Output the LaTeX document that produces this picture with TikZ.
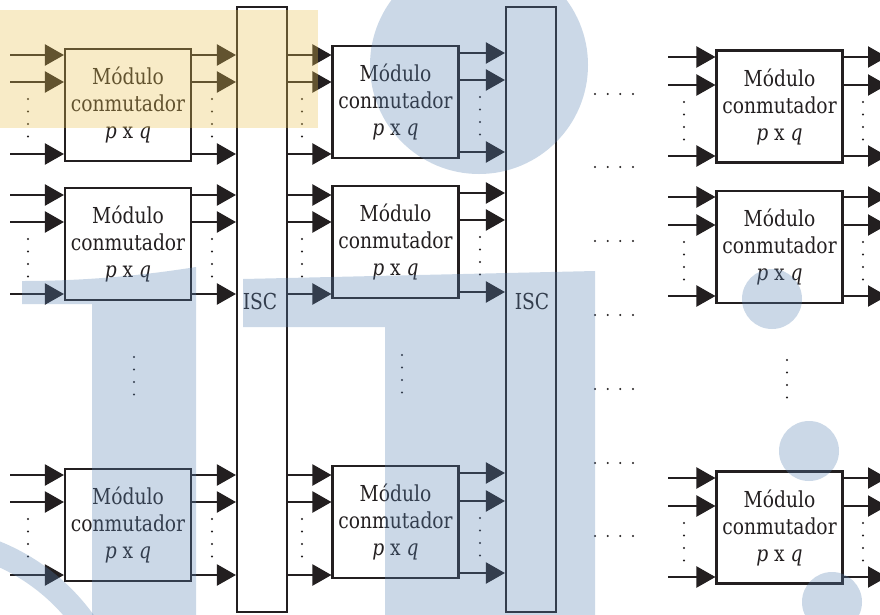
\documentclass[tikz,border=0pt]{standalone}
\usepackage{fontspec}
\setmainfont{DejaVu Serif}[FakeStretch=0.85]
\usetikzlibrary{arrows.meta}
\definecolor{ink}{HTML}{231F20}
\definecolor{wmblue}{RGB}{88,131,180}
\definecolor{wmgold}{RGB}{234,194,81}
\newcommand{\modtext}{Módulo\\conmutador\\\textit{p} x \textit{q}}

\begin{document}
\begin{tikzpicture}[x=1pt,y=-1pt,
  module/.style={draw=ink, line width=2.1pt, fill=white, minimum width=126pt,
    minimum height=112pt, inner sep=0pt, align=center, text=ink,
    font=\fontsize{22}{27}\selectfont},
  isc/.style={draw=ink, line width=2.1pt, fill=white, minimum width=50pt,
    minimum height=605pt, inner sep=0pt},
  isclabel/.style={text=ink, font=\fontsize{22}{27}\selectfont, inner sep=0pt},
  wire/.style={draw=ink, line width=2.2pt, -{Triangle[length=19pt,width=21pt]}},
  blueshade/.style={fill=wmblue, fill opacity=0.31},
  goldshade/.style={fill=wmgold, fill opacity=0.32}]

\clip (0,0) rectangle (880,614);
\fill[white] (0,0) rectangle (880,614);

% switching modules, three columns
\node[module] (m11) at (128,105) {\modtext};
\node[module] (m12) at (128,244) {\modtext};
\node[module] (m13) at (128,525) {\modtext};
\node[module] (m21) at (395.5,102) {\modtext};
\node[module] (m22) at (395.5,242) {\modtext};
\node[module] (m23) at (395.5,522) {\modtext};
\node[module] (m31) at (779.5,106.5) {\modtext};
\node[module] (m32) at (779.5,247) {\modtext};
\node[module] (m33) at (779.5,527.5) {\modtext};

% interconnection stages
\node[isc] (isc1) at (262,309.5) {};
\node[isclabel] (isc1lbl) at (260,301) {ISC};
\node[isc] (isc2) at (531,309.5) {};
\node[isclabel] (isc2lbl) at (532,301) {ISC};

% first column: inputs and outputs
\foreach \m/\ya/\yb/\yc in {m11/55/82/154, m12/195/222/294, m13/475/502/575}{
  \foreach \y in {\ya,\yb,\yc}{
    \coordinate (src) at (10,\y);
    \draw[wire] (src) -- (\m.west |- src);
    \draw[wire] (\m.east |- src) -- (isc1.west |- src);
  }
  \foreach \d in {17,29.5,42,54.5}{
    \fill[ink] (28,\yb+\d) circle[radius=1.1pt];
    \fill[ink] (212,\yb+\d) circle[radius=1.1pt];
  }
}

% second column
\foreach \m/\ya/\yb/\yc/\oa/\ob/\oc in {m21/55/82/154/53/80/152, m22/195/222/294/193/220/292, m23/475/502/575/473/501/573}{
  \foreach \y in {\ya,\yb,\yc}{
    \coordinate (lvl) at (0,\y);
    \draw[wire] (isc1.east |- lvl) -- (\m.west |- lvl);
  }
  \foreach \y in {\oa,\ob,\oc}{
    \coordinate (lvl) at (0,\y);
    \draw[wire] (\m.east |- lvl) -- (isc2.west |- lvl);
  }
  \foreach \d in {17,29.5,42,54.5}{
    \fill[ink] (302,\yb+\d) circle[radius=1.1pt];
    \fill[ink] (480,\ob+\d) circle[radius=1.1pt];
  }
}

% last column
\foreach \m/\ya/\yb/\yc in {m31/57/85/156, m32/197/225/296, m33/478/506/577}{
  \foreach \y in {\ya,\yb,\yc}{
    \coordinate (src) at (668,\y);
    \coordinate (dst) at (887,\y);
    \draw[wire] (src) -- (\m.west |- src);
    \draw[wire] (\m.east |- dst) -- (dst);
  }
  \foreach \d in {17,29.5,42,54.5}{
    \fill[ink] (684,\yb+\d) circle[radius=1.1pt];
    \fill[ink] (863,\yb+\d) circle[radius=1.1pt];
  }
}

% omitted rows
\foreach \x/\y in {134/357, 402/355, 787/360}{
  \foreach \d in {0,12.5,25,37.5}
    \fill[ink] (\x,\y+\d) circle[radius=1.2pt];
}
% omitted stages
\foreach \y in {94,167,241,315,389,463,536}{
  \foreach \x in {595,607.7,620.3,633}
    \fill[ink] (\x,\y) circle[radius=1.1pt];
}

% tinted background figures
\fill[blueshade] (479,65) circle[radius=109pt];
\fill[blueshade] (22,281) .. controls (80,281) and (138,276.3) .. (196,267)
  -- (196,620) -- (92,620) -- (92,304) -- (22,304) -- cycle;
\fill[blueshade] (243,279) -- (595,271) -- (595,620) -- (385,620)
  -- (385,327) -- (243,327) -- cycle;
\fill[blueshade, even odd rule] (-80,740) circle[radius=214pt]
  (-80,740) circle[radius=190pt];
\fill[blueshade] (772,299) circle[radius=30pt];
\fill[blueshade] (809,451) circle[radius=30pt];
\fill[blueshade] (832,602) circle[radius=30pt];
\fill[goldshade] (0,10) rectangle (318,128);
\end{tikzpicture}
\end{document}
